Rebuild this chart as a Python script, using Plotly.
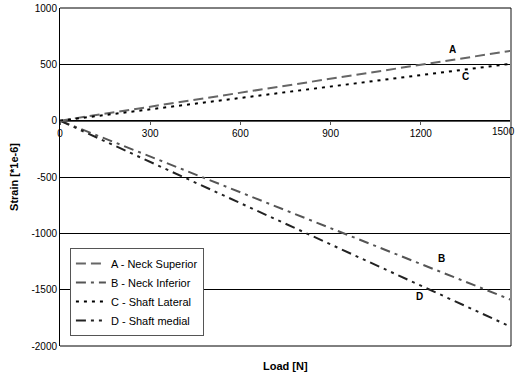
import plotly.graph_objects as go

load = [0, 300, 600, 900, 1200, 1500]
neck_superior = [0, 124, 248, 372, 496, 620]
neck_inferior = [0, -318, -636, -954, -1272, -1590]
shaft_lateral = [0, 101, 202, 303, 404, 505]
shaft_medial = [0, -366, -732, -1098, -1464, -1830]

x_ticks = [0, 300, 600, 900, 1200, 1500]
y_ticks = [-2000, -1500, -1000, -500, 0, 500, 1000]

series = [
    ("A - Neck Superior", neck_superior, "#666666", "10px,5px"),
    ("B - Neck Inferior", neck_inferior, "#555555", "10px,5px,3px,5px"),
    ("C - Shaft Lateral", shaft_lateral, "#000000", "3px,5px"),
    ("D - Shaft medial", shaft_medial, "#222222", "10px,5px,3px,5px,3px,5px"),
]

labels = [("A", 1305, 630), ("C", 1348, 390), ("B", 1270, -1225), ("D", 1197, -1565)]

fig = go.Figure()
for name, vals, color, dash in series:
    fig.add_trace(go.Scatter(x=load, y=vals, mode="lines", name=name,
                             line=dict(color=color, width=2, dash=dash)))

for t, x, y in labels:
    fig.add_annotation(x=x, y=y, text="<b>%s</b>" % t, showarrow=False,
                       font=dict(size=10, color="black"))

# last x tick label, kept inside the page edge
fig.add_annotation(x=x_ticks[-1], y=0, yshift=-11, xanchor="right", xshift=6,
                   text=str(x_ticks[-1]), showarrow=False,
                   font=dict(size=10, color="black"))

fig.add_shape(type="line", xref="paper", yref="paper", x0=1, x1=1, y0=0, y1=1,
              line=dict(color="#888888", width=2))
fig.add_shape(type="line", xref="paper", yref="paper", x0=0, x1=1, y0=1, y1=1,
              line=dict(color="black", width=1))
fig.add_shape(type="line", xref="paper", yref="paper", x0=0, x1=1, y0=0, y1=0,
              line=dict(color="black", width=1))

fig.update_layout(
    width=517, height=375,
    margin=dict(l=60, r=6, t=8, b=29),
    paper_bgcolor="white", plot_bgcolor="white",
    font=dict(family="Liberation Sans, Arial, sans-serif", size=10, color="black"),
    xaxis=dict(range=[0, 1500], tickvals=x_ticks,
               ticktext=[str(v) for v in x_ticks[:-1]] + [""],
               anchor="free", position=2/3, showline=True, linecolor="#555555",
               linewidth=1, ticks="outside", ticklen=3, tickcolor="#555555",
               showgrid=False, zeroline=False, tickfont=dict(size=10),
               automargin=False),
    yaxis=dict(range=[-2000, 1000], tickvals=y_ticks, ticktext=[str(v) for v in y_ticks],
               showline=True, linecolor="black", linewidth=1, ticks="",
               showgrid=True, gridcolor="black", gridwidth=1, zeroline=False,
               title=dict(text="<b>Strain [*1e-6]</b>", font=dict(size=11), standoff=10),
               tickfont=dict(size=10), automargin=False),
    legend=dict(x=0.022, y=0.29, xanchor="left", yanchor="top",
                bordercolor="#555555", borderwidth=1, bgcolor="white",
                font=dict(size=11), tracegroupgap=4),
    showlegend=True,
)
fig.add_annotation(xref="paper", yref="paper", x=0.5, y=0, yshift=-28,
                   text="<b>Load [N]</b>", showarrow=False, font=dict(size=11))

fig.write_html("out.html", config={"displayModeBar": False},
               post_script="document.body.style.margin='0px';")
